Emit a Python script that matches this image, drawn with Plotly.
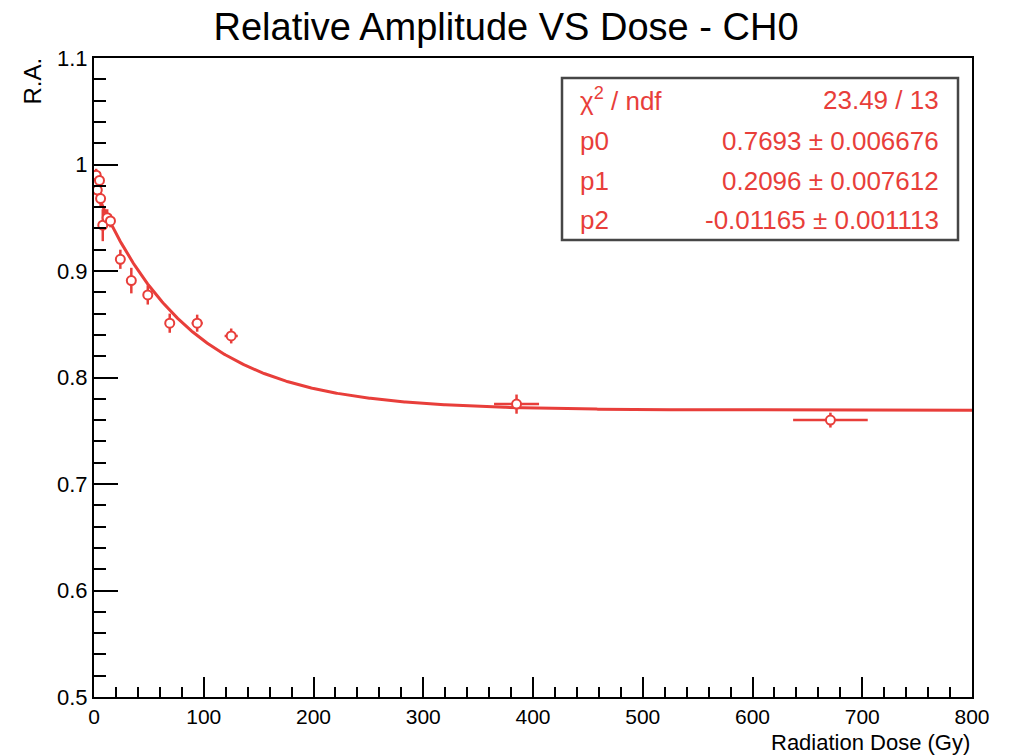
import numpy as np
import plotly.graph_objects as go

# ---- data ----
dose = [1, 2, 3, 5, 6, 8, 12, 15, 24, 34, 49, 69, 94, 125, 385, 671]
dose_err = [1, 1, 1, 1, 1, 1, 1.5, 1.5, 2, 2, 3, 3, 5, 6, 20.5, 34]
ra = [0.982, 0.990, 0.976, 0.985, 0.968, 0.943, 0.950, 0.947,
      0.911, 0.891, 0.8775, 0.851, 0.851, 0.839, 0.775, 0.760]
ra_err = [0.008, 0.006, 0.010, 0.008, 0.008, 0.015, 0.008, 0.006,
          0.009, 0.012, 0.009, 0.009, 0.008, 0.007, 0.009, 0.007]

# fit parameters: f(x) = p0 + p1*exp(p2*x)
p0, p1, p2 = 0.7693, 0.2096, -0.01165
stats_labels = ["χ<sup>2</sup> / ndf", "p0", "p1", "p2"]
stats_values = ["23.49 / 13", "0.7693 ± 0.006676", "0.2096 ± 0.007612", "-0.01165 ± 0.001113"]

RED = "rgb(232,62,58)"
FONT = "Liberation Sans, Arial, Helvetica, sans-serif"

xf = np.linspace(0, 800, 801)
yf = p0 + p1 * np.exp(p2 * xf)

fig = go.Figure()
fig.add_trace(go.Scatter(x=xf, y=yf, mode="lines",
                         line=dict(color=RED, width=3), hoverinfo="skip"))
fig.add_trace(go.Scatter(
    x=dose, y=ra, mode="markers",
    marker=dict(symbol="circle", size=9, color="white",
                line=dict(color=RED, width=2)),
    error_y=dict(type="data", array=ra_err, color=RED, thickness=2.5, width=0),
    error_x=dict(type="data", array=dose_err, color=RED, thickness=2.5, width=0),
))

fig.update_layout(
    width=1012, height=755,
    margin=dict(l=94, r=40, t=58, b=58),
    paper_bgcolor="white", plot_bgcolor="white",
    showlegend=False,
    font=dict(family=FONT, color="black", size=22),
    title=dict(text="Relative Amplitude VS Dose - CH0", x=0.5, xanchor="center",
               yref="container", y=1 - 27 / 755, yanchor="middle",
               font=dict(size=38, family=FONT)),
)
fig.update_xaxes(range=[0, 800], dtick=100, tick0=0,
                 showgrid=False, zeroline=False,
                 showline=True, linecolor="black", linewidth=2, mirror=True,
                 ticks="inside", ticklen=20, tickwidth=1.5, tickcolor="black",
                 minor=dict(ticks="inside", ticklen=10, dtick=20, tickwidth=1.5, tickcolor="black"),
                 tickfont=dict(size=21))
fig.update_yaxes(range=[0.5, 1.1], dtick=0.1, tick0=0.5,
                 showgrid=False, zeroline=False,
                 showline=True, linecolor="black", linewidth=2, mirror=True,
                 ticks="inside", ticklen=24, tickwidth=1.5, tickcolor="black",
                 minor=dict(ticks="inside", ticklen=12, dtick=0.02, tickwidth=1.5, tickcolor="black"),
                 tickfont=dict(size=22))

# axis titles (ROOT style: at the ends of the axes)
fig.add_annotation(text="Radiation Dose (Gy)", xref="paper", yref="paper",
                   x=1.0, y=0, xanchor="right", yanchor="middle", yshift=-45,
                   showarrow=False, font=dict(size=22))
fig.add_annotation(text="R.A.", xref="paper", yref="paper",
                   x=0, y=1.0, xanchor="center", yanchor="top", xshift=-62, yshift=2,
                   textangle=-90, showarrow=False, font=dict(size=24))

# stats box
fig.add_shape(type="rect", xref="paper", yref="paper",
              x0=(562 - 94) / 878, x1=(958 - 94) / 878,
              y0=(697 - 240) / 639, y1=(697 - 78) / 639,
              line=dict(color="rgb(70,70,70)", width=2.5), fillcolor="white")
row_y = [100, 141, 181, 220]
for lab, val, yy in zip(stats_labels, stats_values, row_y):
    yp = (697 - yy) / 639
    fig.add_annotation(text=lab, xref="paper", yref="paper", x=(578 - 94) / 878, y=yp,
                       xanchor="left", yanchor="middle", showarrow=False,
                       font=dict(size=26, color=RED))
    fig.add_annotation(text=val, xref="paper", yref="paper", x=(941 - 94) / 878, y=yp,
                       xanchor="right", yanchor="middle", showarrow=False,
                       font=dict(size=26, color=RED))

fig.write_html("out.html", config={"displayModeBar": False},
               post_script="document.body.style.margin='0';")
